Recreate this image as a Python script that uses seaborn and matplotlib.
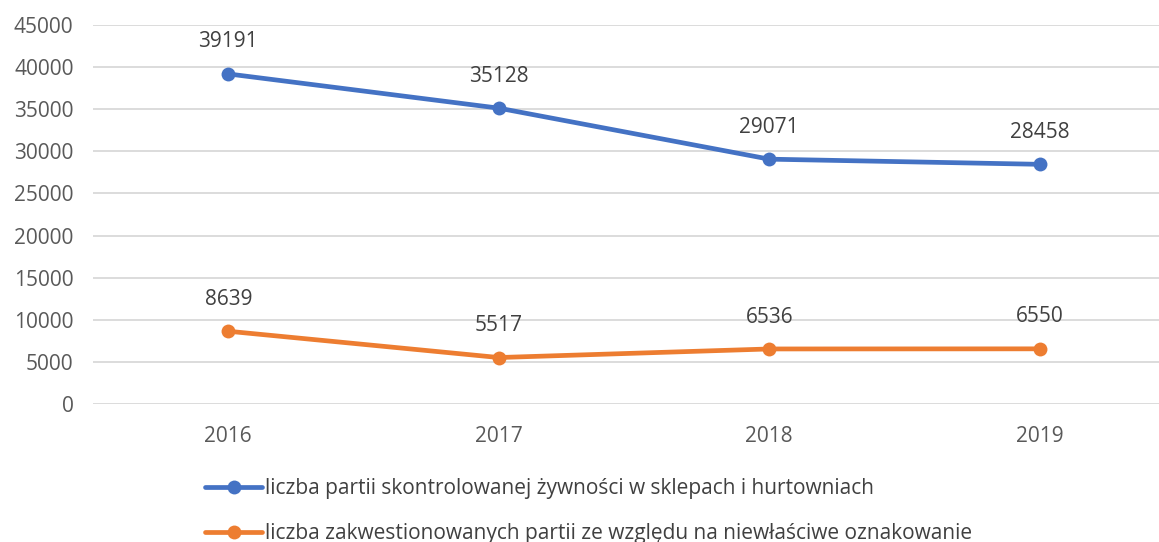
import matplotlib
matplotlib.use("Agg")
import matplotlib.pyplot as plt
import seaborn as sns
import pandas as pd

years = ["2016", "2017", "2018", "2019"]
series_names = [
    "liczba partii skontrolowanej żywności w sklepach i hurtowniach",
    "liczba zakwestionowanych partii ze względu na niewłaściwe oznakowanie",
]
controlled = [39191, 35128, 29071, 28458]
questioned = [8639, 5517, 6536, 6550]
yticks = [0, 5000, 10000, 15000, 20000, 25000, 30000, 35000, 40000, 45000]

colors = ["#4472C4", "#ED7D31"]

sns.set_theme(style="white")
plt.rcParams["font.family"] = ["Open Sans", "DejaVu Sans"]

df = pd.DataFrame({
    "x": list(range(len(years))) * 2,
    "value": controlled + questioned,
    "series": [series_names[0]] * 4 + [series_names[1]] * 4,
})

fig = plt.figure(figsize=(11.59, 5.42), dpi=100)
ax = fig.add_axes([93 / 1159, (542 - 404) / 542, 1 - 93 / 1159, (404 - 25) / 542])

sns.lineplot(data=df, x="x", y="value", hue="series", palette=colors,
             marker="o", markersize=10, markeredgewidth=0, linewidth=3.4,
             ax=ax, legend=True)

for vals in (controlled, questioned):
    for i, v in enumerate(vals):
        ax.annotate(f"{v}", (i, v), xytext=(0, 23), textcoords="offset points",
                    ha="center", va="center", fontsize=15, color="#404040")

ax.set_xlim(-0.5, 3 + (1159 - 1040) / 270)
ax.set_ylim(0, 45000)
ax.set_yticks(yticks)
ax.set_yticklabels([str(t) for t in yticks])
ax.set_xticks(range(len(years)))
ax.set_xticklabels(years)
ax.yaxis.grid(True, color="#D9D9D9", linewidth=1.3)
ax.xaxis.grid(False)
for s in ax.spines.values():
    s.set_visible(False)
ax.tick_params(axis="both", length=0, labelsize=15, labelcolor="#595959")
ax.tick_params(axis="x", pad=16)
ax.tick_params(axis="y", pad=14)
ax.set_xlabel("")
ax.set_ylabel("")

handles, labels = ax.get_legend_handles_labels()
ax.legend(handles, labels, loc="upper left", bbox_to_anchor=(205 / 1159, 1 - 478 / 542),
          bbox_transform=fig.transFigure, frameon=False, fontsize=15,
          labelcolor="#404040", handlelength=2.75, handletextpad=0.12,
          labelspacing=1.15, borderaxespad=0, borderpad=0)

fig.savefig("out.png", dpi=100)
